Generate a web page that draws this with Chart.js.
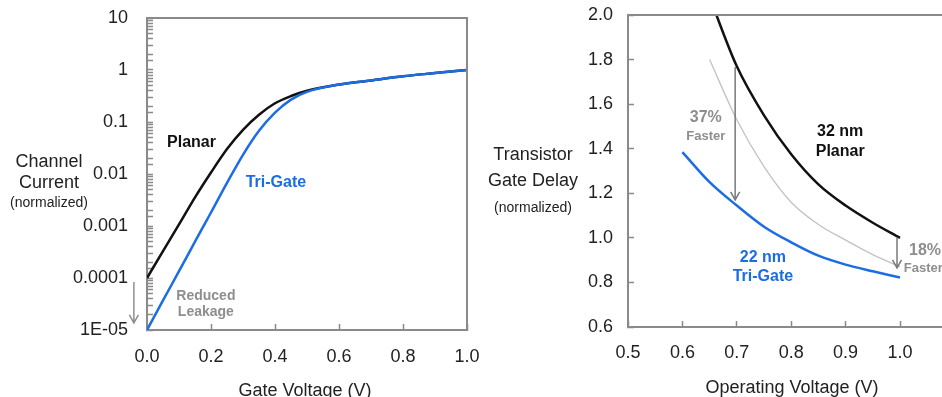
<!DOCTYPE html>
<html>
<head>
<meta charset="utf-8">
<script src="https://cdn.jsdelivr.net/npm/chart.js@4.4.1/dist/chart.umd.min.js"></script>
<style>
  html, body { margin: 0; padding: 0; background: #fff; }
  body { width: 942px; height: 397px; position: relative; overflow: hidden; }
  .box { position: absolute; top: 0; height: 397px; }
  #left { left: 0; width: 480px; }
  #right { left: 480px; width: 462px; }
</style>
</head>
<body>
<div class="box" id="left"><canvas id="currentChart"></canvas></div>
<div class="box" id="right"><canvas id="delayChart"></canvas></div>
<script>
// Left chart: channel current vs gate voltage (log scale)
const gateVoltage = [0, 0.05, 0.1, 0.15, 0.2, 0.25, 0.3, 0.35, 0.4, 0.45, 0.5, 0.6, 0.7, 0.8, 0.9, 1.0];
const planarCurrent = [0.0001, 0.00033, 0.00107, 0.00355, 0.0107, 0.0302, 0.0708, 0.138, 0.229, 0.316, 0.398, 0.525, 0.631, 0.759, 0.871, 1.0];
const triGateCurrent = [0.00001, 0.000037, 0.000135, 0.0005, 0.00182, 0.00676, 0.0234, 0.0676, 0.151, 0.269, 0.38, 0.525, 0.631, 0.759, 0.871, 1.0];
const currentTickLabels = ['1E-05', '0.0001', '0.001', '0.01', '0.1', '1', '10'];

// Right chart: gate delay vs operating voltage
const operatingVoltage = [0.6, 0.65, 0.7, 0.75, 0.8, 0.85, 0.9, 0.95, 1.0];
const planar32Delay = [null, 2.08, 1.77, 1.55, 1.375, 1.24, 1.145, 1.068, 1.0];
const planarShiftedDelay = [null, 1.80, 1.53, 1.32, 1.16, 1.06, 0.99, 0.925, 0.87];
const triGate22Delay = [1.385, 1.25, 1.145, 1.05, 0.98, 0.92, 0.88, 0.85, 0.822];

const FONT = "'Liberation Sans', Arial, sans-serif";
const AXIS_GRAY = '#8a8a8a';
const NOTE_GRAY = '#8e8e8e';
const BLUE = '#1c6de4';

function points(xs, ys) {
    return xs.map((x, i) => ({ x: x, y: ys[i] })).filter(p => p.y !== null);
}

function text(ctx, str, x, y, font, color, align) {
    ctx.font = font;
    ctx.fillStyle = color;
    ctx.textAlign = align || 'center';
    ctx.textBaseline = 'middle';
    ctx.fillText(str, x, y);
}

function arrow(ctx, x, y1, y2, color) {
    ctx.strokeStyle = color;
    ctx.lineWidth = 1.5;
    ctx.beginPath();
    ctx.moveTo(x, y1);
    ctx.lineTo(x, y2);
    ctx.moveTo(x - 4.5, y2 - 8);
    ctx.lineTo(x, y2);
    ctx.lineTo(x + 4.5, y2 - 8);
    ctx.stroke();
}

// fixed axis box sizes, no extra padding for overhanging labels
function fixSize(w, h) {
    return function (s) {
        if (w) s.width = w;
        if (h) s.height = h;
        s.paddingTop = 0;
        s.paddingBottom = 0;
        s.paddingLeft = 0;
        s.paddingRight = 0;
    };
}

function axisTicks(padding) {
    return { padding: padding, color: '#222', font: { family: FONT, size: 18 }, autoSkip: false, maxRotation: 0 };
}

const innerGrid = { drawOnChartArea: false, tickLength: -6, tickColor: AXIS_GRAY, tickWidth: 1.5 };

const leftNotes = {
    id: 'leftNotes',
    afterDraw(chart) {
        const { ctx, chartArea: a, scales: { x, y } } = chart;
        ctx.save();
        // top and right frame
        ctx.strokeStyle = AXIS_GRAY;
        ctx.lineWidth = 2;
        ctx.beginPath();
        ctx.moveTo(a.left, a.top);
        ctx.lineTo(a.right, a.top);
        ctx.lineTo(a.right, a.bottom);
        ctx.stroke();

        text(ctx, 'Planar', x.getPixelForValue(0.139), y.getPixelForValue(0.041), 'bold 16px ' + FONT, '#111');
        text(ctx, 'Tri-Gate', x.getPixelForValue(0.403), y.getPixelForValue(0.0067), 'bold 16px ' + FONT, BLUE);
        text(ctx, 'Reduced', x.getPixelForValue(0.184), y.getPixelForValue(0.000045), 'bold 14px ' + FONT, NOTE_GRAY);
        text(ctx, 'Leakage', x.getPixelForValue(0.184), y.getPixelForValue(0.000022), 'bold 14px ' + FONT, NOTE_GRAY);
        arrow(ctx, x.getPixelForValue(-0.041), y.getPixelForValue(0.000084), y.getPixelForValue(0.0000137), NOTE_GRAY);

        // axis titles
        text(ctx, 'Channel', 49, 162, '18px ' + FONT, '#222');
        text(ctx, 'Current', 49, 183, '18px ' + FONT, '#222');
        text(ctx, '(normalized)', 49, 203, '14px ' + FONT, '#222');
        text(ctx, 'Gate Voltage (V)', 305, 391, '18px ' + FONT, '#222');
        ctx.restore();
    }
};

const rightNotes = {
    id: 'rightNotes',
    afterDraw(chart) {
        const { ctx, chartArea: a, scales: { x, y } } = chart;
        ctx.save();
        ctx.strokeStyle = AXIS_GRAY;
        ctx.lineWidth = 2;
        ctx.beginPath();
        ctx.moveTo(a.left, a.top);
        ctx.lineTo(a.right, a.top);
        ctx.stroke();

        text(ctx, '37%', x.getPixelForValue(0.643), y.getPixelForValue(1.538), 'bold 16px ' + FONT, NOTE_GRAY);
        text(ctx, 'Faster', x.getPixelForValue(0.643), y.getPixelForValue(1.457), 'bold 13px ' + FONT, NOTE_GRAY);
        arrow(ctx, x.getPixelForValue(0.697), y.getPixelForValue(1.767), y.getPixelForValue(1.17), '#7a7a7a');

        text(ctx, '18%', x.getPixelForValue(1.0165), y.getPixelForValue(0.941), 'bold 16px ' + FONT, NOTE_GRAY, 'left');
        text(ctx, 'Faster', x.getPixelForValue(1.007), y.getPixelForValue(0.865), 'bold 13px ' + FONT, NOTE_GRAY, 'left');
        arrow(ctx, x.getPixelForValue(0.9945), y.getPixelForValue(1.0), y.getPixelForValue(0.865), '#7a7a7a');

        text(ctx, '32 nm', x.getPixelForValue(0.89), y.getPixelForValue(1.475), 'bold 16px ' + FONT, '#111');
        text(ctx, 'Planar', x.getPixelForValue(0.89), y.getPixelForValue(1.385), 'bold 16px ' + FONT, '#111');
        text(ctx, '22 nm', x.getPixelForValue(0.748), y.getPixelForValue(0.910), 'bold 16px ' + FONT, BLUE);
        text(ctx, 'Tri-Gate', x.getPixelForValue(0.748), y.getPixelForValue(0.824), 'bold 16px ' + FONT, BLUE);

        text(ctx, 'Transistor', 53, 155, '18px ' + FONT, '#222');
        text(ctx, 'Gate Delay', 53, 181, '18px ' + FONT, '#222');
        text(ctx, '(normalized)', 53, 208, '14px ' + FONT, '#222');
        text(ctx, 'Operating Voltage (V)', 312, 388, '18px ' + FONT, '#222');
        ctx.restore();
    }
};

const common = {
    responsive: true,
    maintainAspectRatio: false,
    animation: false,
    plugins: { legend: { display: false }, tooltip: { enabled: false } },
    elements: { point: { radius: 0 } }
};

new Chart(document.getElementById('currentChart'), {
    type: 'line',
    data: {
        datasets: [
            { data: points(gateVoltage, triGateCurrent), borderColor: BLUE, borderWidth: 2.5, cubicInterpolationMode: 'monotone' },
            { data: points(gateVoltage, planarCurrent), borderColor: '#111', borderWidth: 2.5, cubicInterpolationMode: 'monotone' }
        ]
    },
    options: {
        ...common,
        layout: { padding: { top: 18, right: 13, bottom: 0, left: 0 } },
        scales: {
            x: {
                type: 'linear', min: 0, max: 1,
                afterFit: fixSize(0, 67),
                border: { color: AXIS_GRAY, width: 2 },
                grid: innerGrid,
                ticks: { ...axisTicks(22), stepSize: 0.2, callback: v => v.toFixed(1) }
            },
            y: {
                type: 'logarithmic', min: 0.00001, max: 10,
                afterFit: fixSize(147, 0),
                border: { color: AXIS_GRAY, width: 2 },
                grid: innerGrid,
                ticks: {
                    ...axisTicks(25),
                    callback: v => {
                        const e = Math.log10(v);
                        if (Math.abs(e - Math.round(e)) > 1e-6) return '';
                        return currentTickLabels[Math.round(e) + 5];
                    }
                }
            }
        }
    },
    plugins: [leftNotes]
});

new Chart(document.getElementById('delayChart'), {
    type: 'line',
    data: {
        datasets: [
            { data: points(operatingVoltage, planar32Delay), borderColor: '#111', borderWidth: 2.5, cubicInterpolationMode: 'monotone' },
            { data: points(operatingVoltage, planarShiftedDelay), borderColor: '#c2c2c2', borderWidth: 1.3, cubicInterpolationMode: 'monotone' },
            { data: points(operatingVoltage, triGate22Delay), borderColor: BLUE, borderWidth: 2.5, cubicInterpolationMode: 'monotone' }
        ]
    },
    options: {
        ...common,
        layout: { padding: { top: 15, right: 0, bottom: 0, left: 0 } },
        scales: {
            x: {
                type: 'linear', min: 0.5, max: 1.0772,
                afterFit: fixSize(0, 70),
                border: { color: AXIS_GRAY, width: 2 },
                grid: innerGrid,
                ticks: { ...axisTicks(21), stepSize: 0.1, includeBounds: false, callback: v => v.toFixed(1) }
            },
            y: {
                type: 'linear', min: 0.6, max: 2.0,
                afterFit: fixSize(148, 0),
                border: { color: AXIS_GRAY, width: 2 },
                grid: innerGrid,
                ticks: { ...axisTicks(21), stepSize: 0.2, callback: v => v.toFixed(1) }
            }
        }
    },
    plugins: [rightNotes]
});
</script>
</body>
</html>
